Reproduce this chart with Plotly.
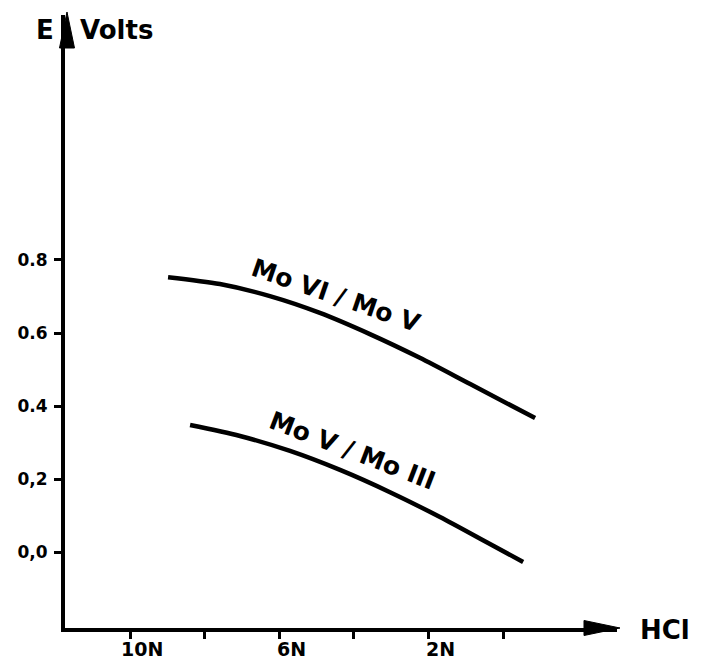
import plotly.graph_objects as go

# Data (HCl normality, E in volts)
hcl_1 = [8.98, 7.59, 6.25, 4.91, 3.57, 2.23, 0.88, -0.86]
e_1 = [0.753, 0.734, 0.701, 0.655, 0.597, 0.532, 0.460, 0.367]
hcl_2 = [8.39, 7.05, 5.71, 4.37, 3.03, 1.69, 0.35, -0.54]
e_2 = [0.348, 0.318, 0.277, 0.225, 0.164, 0.096, 0.022, -0.027]

y_tickvals = [0.0, 0.2, 0.4, 0.6, 0.8]
y_ticktext = ["0,0", "0,2", "0.4", "0.6", "0.8"]
x_tickvals = [10, 8, 6, 4, 2, 0]
x_labels = ["10N", "6N", "2N"]
x_label_vals = [10, 6, 2]

W, H = 701, 663
ML, MR, MT, MB = 65, 84, 15, 35
PW, PH = W - ML - MR, H - MT - MB


def px(xp):
    return (xp - ML) / PW


def py(yp):
    return (H - MB - yp) / PH


FONT = "DejaVu Sans"

fig = go.Figure()
for xs, ys in [(hcl_1, e_1), (hcl_2, e_2)]:
    fig.add_trace(go.Scatter(x=xs, y=ys, mode="lines", line=dict(color="black", width=4.5, shape="spline", smoothing=0.8),
                             hoverinfo="skip", showlegend=False))

annotations = []
for v, t in zip(x_label_vals, x_labels):
    annotations.append(dict(x=v, y=0, xref="x", yref="paper", text="<b>%s</b>" % t, showarrow=False,
                            xanchor="center", yanchor="top", xshift=12, yshift=-8,
                            font=dict(family=FONT, size=19, color="black")))
annotations += [
    dict(x=px(45), y=py(30), xref="paper", yref="paper", text="<b>E</b>", showarrow=False,
         font=dict(family=FONT, size=26, color="black"), xanchor="center", yanchor="middle"),
    dict(x=px(78), y=py(30), xref="paper", yref="paper", text="<b>Volts</b>", showarrow=False,
         font=dict(family=FONT, size=26, color="black"), xanchor="left", yanchor="middle"),
    dict(x=px(638), y=py(630), xref="paper", yref="paper", text="<b>HCl</b>", showarrow=False,
         font=dict(family=FONT, size=26, color="black"), xanchor="left", yanchor="middle"),
    dict(x=px(336), y=py(295), xref="paper", yref="paper", text="<b>Mo VI / Mo V</b>", showarrow=False,
         textangle=19, font=dict(family=FONT, size=25, color="black"), xanchor="center", yanchor="middle"),
    dict(x=px(352), y=py(450), xref="paper", yref="paper", text="<b>Mo V / Mo III</b>", showarrow=False,
         textangle=21, font=dict(family=FONT, size=25, color="black"), xanchor="center", yanchor="middle"),
]

shapes = [
    dict(type="path", xref="paper", yref="paper", fillcolor="black", line=dict(color="black", width=1),
         path="M %f,%f L %f,%f L %f,%f Z" % (px(67), py(12), px(59.5), py(48), px(74.5), py(48))),
    dict(type="path", xref="paper", yref="paper", fillcolor="black", line=dict(color="black", width=1),
         path="M %f,%f L %f,%f L %f,%f Z" % (px(620), py(628), px(584), py(620.5), px(584), py(635.5))),
]

fig.update_layout(
    width=W, height=H,
    margin=dict(l=ML, r=MR, t=MT, b=MB),
    paper_bgcolor="white", plot_bgcolor="white",
    annotations=annotations, shapes=shapes,
    xaxis=dict(range=[11.743, -3.056], showgrid=False, zeroline=False, showline=True, linecolor="black",
               linewidth=4, ticks="outside", ticklen=7, tickwidth=3, tickcolor="black",
               tickvals=x_tickvals, ticktext=[""] * len(x_tickvals)),
    yaxis=dict(range=[-0.208, 1.471], showgrid=False, zeroline=False, showline=True, linecolor="black",
               linewidth=4, ticks="outside", ticklen=7, tickwidth=3, tickcolor="black",
               tickvals=y_tickvals, ticktext=["<b>%s</b>" % t for t in y_ticktext],
               tickfont=dict(family=FONT, size=17, color="black"), ticklabelstandoff=3),
)

fig.write_html("out.html")
